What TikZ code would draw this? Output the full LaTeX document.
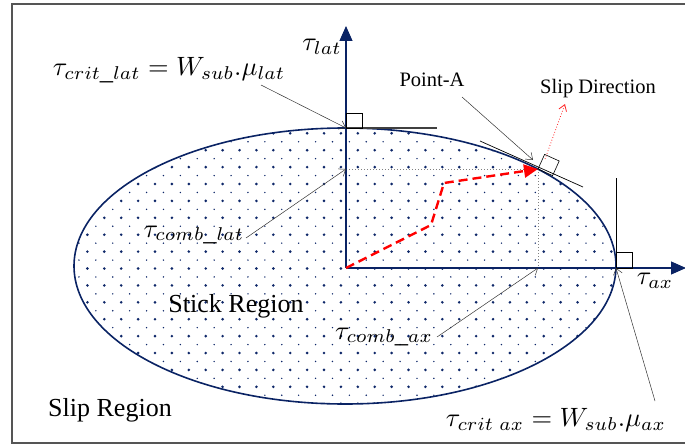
\documentclass[tikz,border=0pt]{standalone}
\usepackage{fontspec}
\setmainfont{Liberation Serif}
\usetikzlibrary{arrows.meta}
\definecolor{navy}{RGB}{10,35,100}
\definecolor{axisc}{RGB}{40,65,130}
\definecolor{dotc}{RGB}{15,40,105}
\definecolor{framec}{RGB}{85,85,85}
\tikzset{
  lbl/.style={inner sep=0pt, font=\fontsize{20.5}{24}\selectfont},
  reg/.style={inner sep=0pt, font=\fontsize{26}{30}\selectfont},
  mlbl/.style={inner sep=0pt, scale=2.65},
  pointer/.style={draw=black!80, line width=0.5pt, -{Straight Barb[length=6pt,width=9pt]}},
  axis/.style={draw=axisc, line width=1.1pt, -{Triangle[length=15pt,width=13pt]}, navy},
  thin/.style={draw=black, line width=0.6pt},
}
\begin{document}
\begin{tikzpicture}[x=1pt,y=-1pt]
\useasboundingbox (0,0) rectangle (685,444);
% frame
\draw[framec, line width=1.5pt] (12,4) rectangle (688,443);
% dotted fill of the stick region
\begin{scope}
  \clip (345,266) ellipse [x radius=271, y radius=138];
  \foreach \i in {-6,...,28} {
    \foreach \j in {-4,...,13} {
      \fill[dotc] ({155+16.9*\i},{184+16.9*\j}) circle (1.45);
      \fill[dotc] ({163.45+16.9*\i},{192.45+16.9*\j}) circle (0.8);
    }
  }
\end{scope}
\draw[navy, line width=1.6pt] (345,266) ellipse [x radius=271, y radius=138];
% key points
\coordinate (O) at (346,268);
\coordinate (T) at (346,128);
\coordinate (A) at (538,169);
\coordinate (R) at (616,268);
\coordinate (Ly) at (346,169);
\coordinate (Lx) at (538,268);
\coordinate (Ytop) at (346,26);
\coordinate (Xend) at (686,268);
% guide lines
\draw[gray, dotted, line width=1pt] (Ly) -- (A) -- (Lx);
% axes
\draw[axis] (O) -- (Ytop);
\draw[axis] (O) -- (Xend);
% top tangent and right-angle square
\draw[black!75, line width=1.1pt] (T) -- (437,128);
\draw[thin] (T) rectangle (362,113);
% right vertical line and square
\draw[thin] (R) -- (616,178);
\draw[thin] (616,252) rectangle (632,268);
% tangent at point A and square
\draw[black, line width=0.7pt] (480,141) -- (583,187);
\draw[thin] (A) -- (552.6,175.6) -- (559.2,161.0) -- (544.6,154.4) -- cycle;
% load path
\draw[red, line width=2.4pt, dash pattern=on 9pt off 5pt, -{Triangle[length=14pt,width=13pt]}]
  (O) -- (431,225) -- (444,183) -- (A);
% slip direction
\coordinate (S1) at (545,159);
\coordinate (S2) at (565,104);
\draw[red!85, dotted, line width=0.8pt, -{Straight Barb[length=6pt,width=8pt]}] (S1) -- (S2);
% labels
\node[mlbl] (tlat) at (322,47) {$\tau_{lat}$};
\node[mlbl] (tax) at (655,281) {$\tau_{ax}$};
\node[mlbl] (critlat) at (169,70) {$\tau_{crit\_lat}=W_{sub}.\mu_{lat}$};
\node[mlbl] (critax) at (556,420) {$\tau_{crit\ ax}=W_{sub}.\mu_{ax}$};
\node[mlbl] (comblat) at (194,235) {$\tau_{comb\_lat}$};
\node[mlbl] (combax) at (384,337) {$\tau_{comb\_ax}$};
\node[lbl] (pa) at (432,80) {Point-A};
\node[lbl] (sd) at (598,89) {Slip Direction};
\node[reg] (stick) at (236,306) {Stick Region};
\node[reg] (slip) at (110,410) {Slip Region};
% pointers
\coordinate (p1) at (261,85);
\coordinate (p2) at (246,238);
\coordinate (p3) at (437,337);
\coordinate (p4) at (655,401);
\coordinate (p5) at (462,97);
\draw[pointer] (p1) -- (T);
\draw[pointer] (p2) -- (Ly);
\draw[pointer] (p3) -- (Lx);
\draw[pointer] (p4) -- (R);
\draw[pointer] (p5) -- (533,160);
\end{tikzpicture}
\end{document}
